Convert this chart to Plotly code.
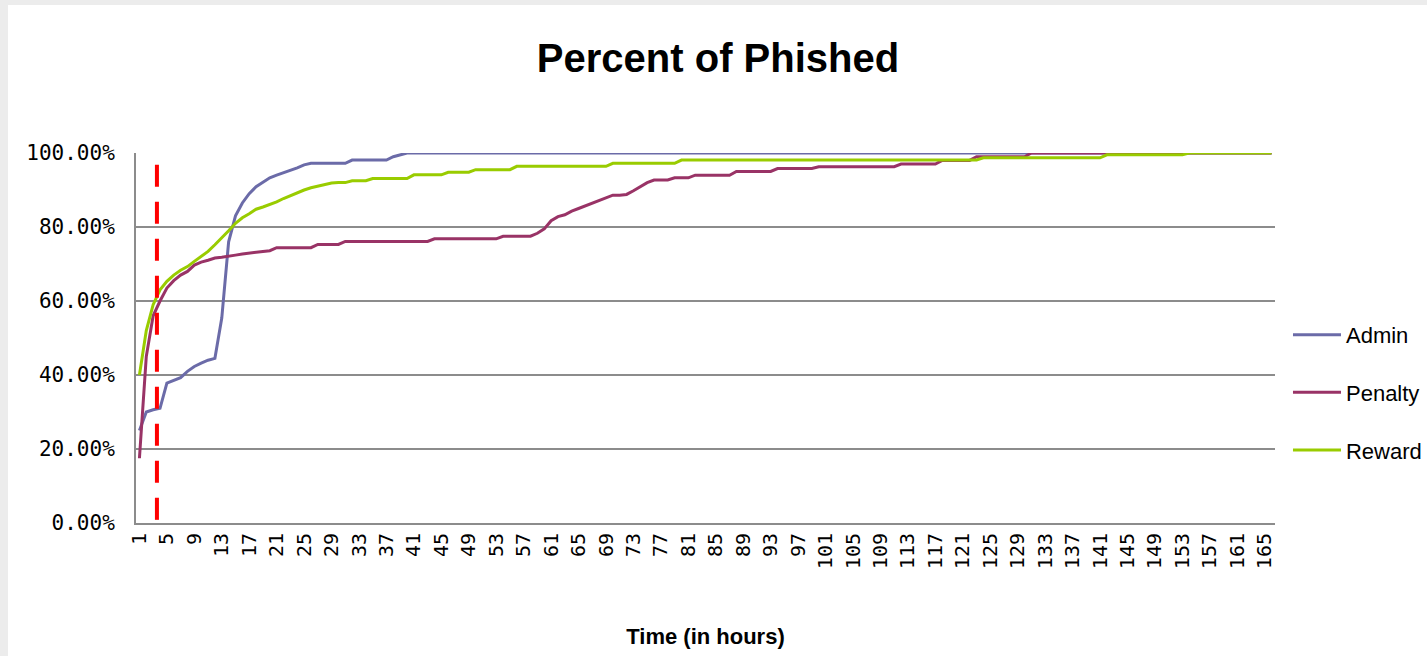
import plotly.graph_objects as go

hours = list(range(1, 167))
tick_hours = list(range(1, 166, 4))

admin = [
    25, 30, 30.6, 31, 37.8, 38.5, 39.3, 41, 42.3, 43.2,
    44, 44.5, 55.4, 76, 83, 86.5, 89, 90.9, 92, 93.3,
    94, 94.6, 95.3, 96, 96.8, 97.2, 97.2, 97.2, 97.2, 97.2,
    97.2, 98.1, 98.1, 98.1, 98.1, 98.1, 98.1, 99, 99.5, 100,
] + [100] * 126

penalty = [
    17.5, 45, 56, 60, 63.5, 65.5, 67, 68, 69.7, 70.5,
    71, 71.6, 71.8, 72.2, 72.4, 72.7, 73, 73.2, 73.4, 73.6,
    74.4, 74.4, 74.4, 74.4, 74.4, 74.4, 75.3, 75.3, 75.3, 75.3,
    76.1, 76.1, 76.1, 76.1, 76.1, 76.1, 76.1, 76.1, 76.1, 76.1,
    76.1, 76.1, 76.1, 76.8, 76.8, 76.8, 76.8, 76.8, 76.8, 76.8,
    76.8, 76.8, 76.8, 77.5, 77.5, 77.5, 77.5, 77.5, 78.3, 79.5,
    81.7, 82.8, 83.3, 84.3, 85, 85.7, 86.4, 87.2, 88, 88.6,
    88.6, 88.8, 89.8, 90.9, 92, 92.7, 92.7, 92.7, 93.3, 93.3,
    93.3, 94, 94, 94, 94, 94, 94, 95, 95, 95,
    95, 95, 95, 95.8, 95.8, 95.8, 95.8, 95.8, 95.8, 96.3,
    96.3, 96.3, 96.3, 96.3, 96.3, 96.3, 96.3, 96.3, 96.3, 96.3,
    96.3, 97, 97, 97, 97, 97, 97, 98, 98, 98,
    98, 98, 99, 99, 99, 99, 99, 99, 99, 99,
] + [100] * 36

reward = [
    40, 52, 59, 63, 65.3, 67, 68.3, 69.3, 70.7, 72,
    73.4, 75.2, 77, 79, 81, 82.5, 83.6, 84.8, 85.4, 86,
    86.8, 87.7, 88.5, 89.4, 90, 90.6, 91, 91.5, 91.9, 92,
    92, 92.5, 92.5, 92.5, 93.1, 93.1, 93.1, 93.1, 93.1, 93.1,
    94.1, 94.1, 94.1, 94.1, 94.1, 94.8, 94.8, 94.8, 94.8, 95.5,
    95.5, 95.5, 95.5, 95.5, 95.5,
] + [96.4] * 14 + [97.2] * 10 + [98.1] * 44 + [98.7] * 18 + [99.5] * 12 + [100] * 13

series_names = ["Admin", "Penalty", "Reward"]
series_colors = ["#6b6ba8", "#993366", "#99cc00"]
marker_hour = 3.55
marker_top = 96.8
y_ticks = [0, 20, 40, 60, 80, 100]
y_tick_text = [f"{v:.2f}%" for v in y_ticks]

SANS = "Liberation Sans, Arial, sans-serif"
MONO = "DejaVu Sans Mono, monospace"

fig = go.Figure()
for name, vals, col in zip(series_names, [admin, penalty, reward], series_colors):
    fig.add_trace(go.Scatter(
        x=hours, y=vals, mode="lines", name=name,
        line=dict(color=col, width=3), legendgroup=name,
    ))

fig.add_shape(type="line", xref="x", yref="y",
              x0=marker_hour, x1=marker_hour, y0=marker_top, y1=0,
              line=dict(color="#ff0000", width=4, dash="22px,15px"), layer="above")

# page background: grey frame with white panel
fig.add_shape(type="rect", xref="paper", yref="paper",
              x0=-0.1124, x1=1.14, y0=-0.37, y1=1.4,
              fillcolor="white", line=dict(width=0), layer="below")

fig.update_layout(
    width=1427, height=656,
    paper_bgcolor="#ececec", plot_bgcolor="white",
    margin=dict(l=136, r=152, t=153, b=133, autoexpand=False),
    title=dict(text="<b>Percent of Phished</b>", x=718 / 1427, xanchor="center",
               y=1 - 58 / 656, yanchor="middle", yref="container",
               font=dict(family=SANS, size=40, color="black")),
    showlegend=True,
    legend=dict(x=1.0114, xanchor="left", y=0.565, yanchor="top",
                font=dict(family=SANS, size=22, color="black"),
                tracegroupgap=26, itemwidth=48, bgcolor="rgba(0,0,0,0)"),
    xaxis=dict(range=[0.5, 166.5], tickmode="array", tickvals=tick_hours,
               tickangle=-90, showgrid=False, zeroline=False,
               showline=True, linecolor="#8c8c8c", linewidth=2,
               ticks="", tickfont=dict(family=MONO, size=20, color="black"),
               title=dict(text="<b>Time (in hours)</b>", standoff=60,
                          font=dict(family=SANS, size=22, color="black"))),
    yaxis=dict(range=[0, 100], tickmode="array", tickvals=y_ticks,
               ticktext=y_tick_text,
               showgrid=True, gridcolor="#8c8c8c", gridwidth=2,
               zeroline=False, showline=True, linecolor="#8c8c8c", linewidth=2,
               ticks="", ticklabelstandoff=15,
               tickfont=dict(family=MONO, size=21, color="black")),
)

fig.write_html("out.html", config={"displayModeBar": False},
               post_script="document.body.style.margin='0px';")
